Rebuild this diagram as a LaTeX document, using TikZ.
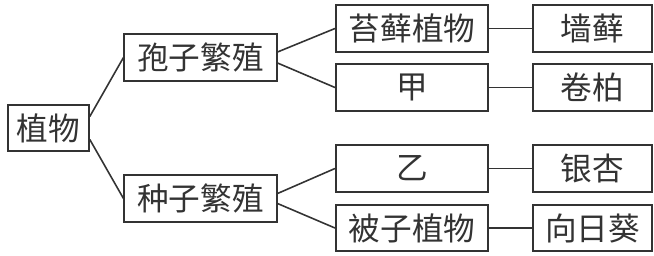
\documentclass[tikz,border=0pt]{standalone}
\usepackage{fontspec}
\setmainfont{Noto Sans CJK SC}
\usetikzlibrary{arrows,arrows.meta}

\begin{document}
\begin{tikzpicture}[
box/.style={draw=black!80,text=black!80,line width=0.9pt,inner sep=0pt,minimum height=0.93cm,font=\fontsize{18}{20}\selectfont},
smallbox/.style={box,minimum width=1.62cm},
midbox/.style={box,minimum width=3.05cm},
leafbox/.style={box,minimum width=2.38cm},
link/.style={draw=black!80,line width=0.9pt} ]

\useasboundingbox (0,0) rectangle (13.08,5.1);

\node[smallbox] (plant) at (0.97,2.54) {植物};

\node[midbox] (spore) at (4.01,3.95) {孢子繁殖};

\node[midbox] (seed) at (4.01,1.13) {种子繁殖};

\node[midbox] (moss) at (8.24,4.53) {苔藓植物};

\node[midbox] (jia) at (8.24,3.35) {甲};

\node[midbox] (yi) at (8.24,1.73) {乙};

\node[midbox] (angio) at (8.24,0.54) {被子植物};

\node[leafbox] (wallmoss) at (11.85,4.53) {墙藓};

\node[leafbox] (selag) at (11.85,3.35) {卷柏};

\node[leafbox] (ginkgo) at (11.85,1.73) {银杏};

\node[leafbox] (sunflower) at (11.85,0.54) {向日葵};

\draw[link] ([yshift=0.23cm]plant.east) -- (spore.west);

\draw[link] ([yshift=-0.23cm]plant.east) -- (seed.west);

\draw[link] ([yshift=0.11cm]spore.east) -- (moss.west);

\draw[link] ([yshift=-0.11cm]spore.east) -- (jia.west);

\draw[link] ([yshift=0.1cm]seed.east) -- (yi.west);

\draw[link] ([yshift=-0.1cm]seed.east) -- (angio.west);

\draw[link] (moss) -- (wallmoss);

\draw[link] (jia) -- (selag);

\draw[link] (yi) -- (ginkgo);

\draw[link] (angio) -- (sunflower);

\end{tikzpicture}
\end{document}
